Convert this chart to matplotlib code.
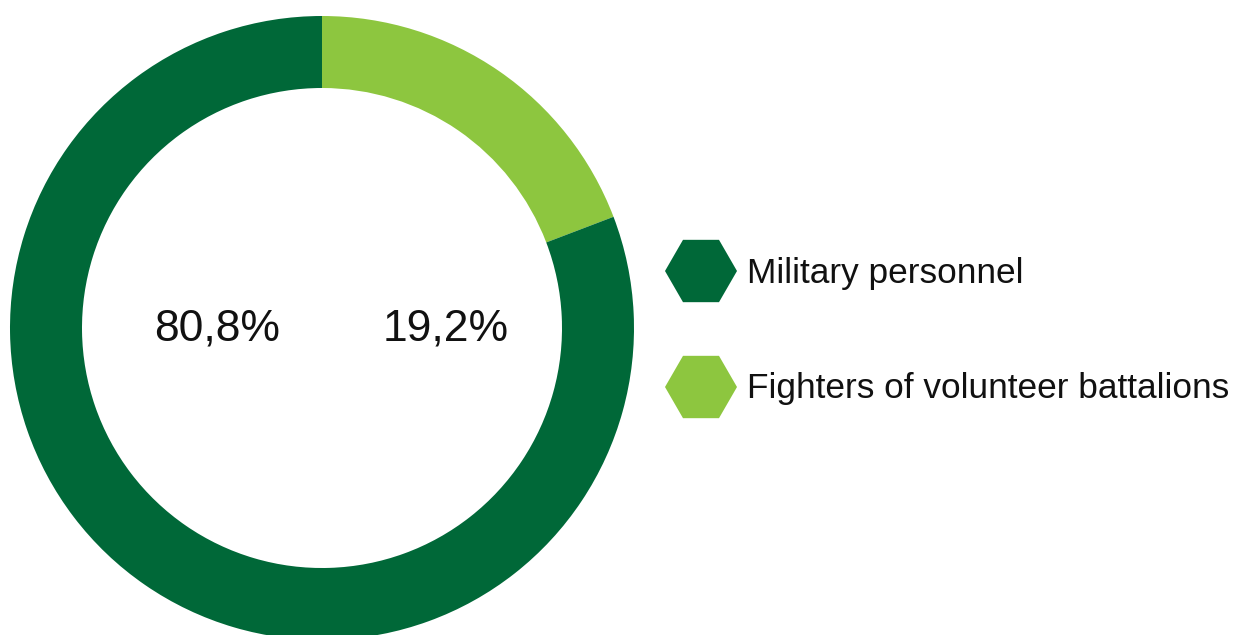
import matplotlib
matplotlib.use("Agg")
import matplotlib.pyplot as plt
from matplotlib.patches import RegularPolygon
import numpy as np

# данные
labels = ["Fighters of volunteer battalions", "Military personnel"]
shares = [19.2, 80.8]
colors = ["#8DC63F", "#006838"]
value_text = ["19,2%", "80,8%"]

W, H = 1236, 635
plt.rcParams["font.family"] = ["Liberation Sans", "DejaVu Sans"]

fig = plt.figure(figsize=(W / 100, H / 100), dpi=100)
ax = fig.add_axes([0, 0, 1, 1])

# donut
cx, cy, r_out, ring = 322, H - 328, 312, 72
ax.pie(shares, colors=colors, startangle=90, counterclock=False,
       center=(cx, cy), radius=r_out,
       wedgeprops=dict(width=ring, linewidth=0))

# percent labels inside the ring
ax.text(217, H - 341, value_text[1], ha="center", va="baseline",
        fontsize=32, color="#111111")
ax.text(446, H - 341, value_text[0], ha="center", va="baseline",
        fontsize=32, color="#111111")

# legend with hexagon markers
legend_rows = [("Military personnel", colors[1], 271, 283),
               ("Fighters of volunteer battalions", colors[0], 387, 398)]
for txt, col, yc, yb in legend_rows:
    ax.add_patch(RegularPolygon((701, H - yc), numVertices=6, radius=36,
                                orientation=np.pi / 6, facecolor=col,
                                edgecolor="none"))
    ax.text(747, H - yb, txt, ha="left", va="baseline",
            fontsize=25.4, color="#111111")

ax.set_xlim(0, W)
ax.set_ylim(0, H)
ax.set_aspect("equal")
ax.axis("off")

fig.savefig("out.png", dpi=100)
